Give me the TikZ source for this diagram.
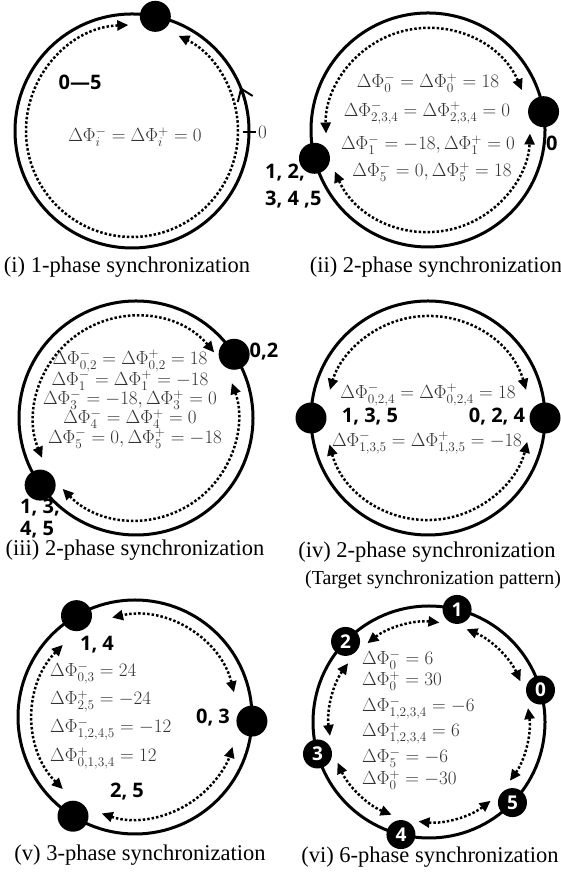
\RequirePackage{fix-cm}
\documentclass[tikz,border=0pt]{standalone}
\usepackage[no-math]{fontspec}
\newfontfamily\capfont{Liberation Serif}
\newfontfamily\lblfont{Open Sans}
\usetikzlibrary{arrows.meta}
\definecolor{eqgray}{RGB}{50,50,50}
\tikzset{
 ring/.style={line width=3pt},
 dotarc/.style={line width=2.5pt, dash pattern=on 2.5pt off 2pt, {Triangle[length=11pt,width=10pt]}-{Triangle[length=11pt,width=10pt]}},
 osc/.style={circle, fill=black, minimum size=31pt, inner sep=0pt},
 numosc/.style={circle, fill=black, minimum size=29pt, inner sep=0pt, text=white, font=\lblfont\bfseries\fontsize{19}{19}\selectfont},
 lbl/.style={font=\lblfont\bfseries\fontsize{20}{24}\selectfont, inner sep=0pt},
 eq/.style={text=eqgray, font=\fontsize{19}{19}\selectfont, inner sep=0pt},
 captxt/.style={font=\capfont\fontsize{22.5}{26}\selectfont, inner sep=0pt},
}
\begin{document}
\begin{tikzpicture}[x=1pt,y=1pt]
\fill[white] (0,0) rectangle (561,882);
\useasboundingbox (0,0) rectangle (561,882);

% ---------------- (i) ----------------
\coordinate (c1) at (132,751);
\draw[ring] (c1) circle[radius=117];
\node[osc] (d1) at ([shift={(78.5:117)}]c1) {};
\draw[dotarc] ([shift={(92:106)}]c1) arc[start angle=92,end angle=424,radius=106];
\draw[line width=2pt, -{Straight Barb[length=11pt,width=16pt,line width=2pt]}] ([shift={(10:117)}]c1) arc[start angle=10,end angle=22,radius=117];
\coordinate (t0) at (249,750);
\draw[line width=2pt] ([xshift=-6pt]t0) -- ([xshift=7pt]t0);
\node[eq, anchor=west] (t0lab) at ([xshift=9pt]t0) {$0$};
\node[lbl] (l1) at (80,800) {0—5};
\node[eq] (e1) at (135,745) {$\Delta\Phi_i^- = \Delta\Phi_i^+ = 0$};
\node[captxt] (cap1) at (127,615) {(i) 1-phase synchronization};

% ---------------- (ii) ----------------
\coordinate (c2) at (428,752);
\draw[ring] (c2) circle[radius=117];
\node[osc] (d2a) at ([shift={(9:117)}]c2) {};
\node[osc] (d2b) at ([shift={(194:117)}]c2) {};
\draw[dotarc] ([shift={(23:102)}]c2) arc[start angle=23,end angle=182,radius=102];
\draw[dotarc] ([shift={(204:102)}]c2) arc[start angle=204,end angle=358,radius=102];
\node[lbl, anchor=west] (l2a) at (546,739) {0};
\node[lbl, anchor=west] (l2b) at (265,709) {1, 2,};
\node[lbl, anchor=west] (l2c) at (265,682) {3, 4 ,5};
\node[eq] (e2a) at (428,799) {$\Delta\Phi_0^- = \Delta\Phi_0^+ = 18$};
\node[eq] (e2b) at (427,769) {$\Delta\Phi_{2,3,4}^- = \Delta\Phi_{2,3,4}^+ = 0$};
\node[eq] (e2c) at (428,737) {$\Delta\Phi_1^- = -18, \Delta\Phi_1^+ = 0$};
\node[eq] (e2d) at (432,710) {$\Delta\Phi_5^- = 0, \Delta\Phi_5^+ = 18$};
\node[captxt] (cap2) at (436,615) {(ii) 2-phase synchronization};

% ---------------- (iii) ----------------
\coordinate (c3) at (136,464);
\draw[ring] (c3) circle[radius=117];
\node[osc] (d3a) at ([shift={(33:117)}]c3) {};
\node[osc] (d3b) at ([shift={(215:117)}]c3) {};
\draw[dotarc] ([shift={(40:102)}]c3) arc[start angle=40,end angle=203,radius=102];
\draw[dotarc] ([shift={(224:102)}]c3) arc[start angle=224,end angle=380,radius=102];
\node[lbl] (l3a) at (264,530) {0,2};
\node[lbl, anchor=west] (l3b) at (20,374) {1, 3,};
\node[lbl, anchor=west] (l3c) at (20,352) {4, 5};
\node[eq] (e3a) at (130,521) {$\Delta\Phi_{0,2}^- = \Delta\Phi_{0,2}^+ = 18$};
\node[eq] (e3b) at (130,501.5) {$\Delta\Phi_1^- = \Delta\Phi_1^+ = -18$};
\node[eq] (e3c) at (130,482) {$\Delta\Phi_3^- = -18, \Delta\Phi_3^+ = 0$};
\node[eq] (e3d) at (130,463) {$\Delta\Phi_4^- = \Delta\Phi_4^+ = 0$};
\node[eq] (e3e) at (135,443.5) {$\Delta\Phi_5^- = 0, \Delta\Phi_5^+ = -18$};
\node[captxt] (cap3) at (135,332) {(iii) 2-phase synchronization};

% ---------------- (iv) ----------------
\coordinate (c4) at (428,464);
\draw[ring] (c4) circle[radius=117];
\node[osc] (d4a) at ([shift={(0:117)}]c4) {};
\node[osc] (d4b) at ([shift={(180:117)}]c4) {};
\draw[dotarc] ([shift={(16:102)}]c4) arc[start angle=16,end angle=164,radius=102];
\draw[dotarc] ([shift={(195:102)}]c4) arc[start angle=195,end angle=346.5,radius=102];
\node[lbl] (l4a) at (370,465) {1, 3, 5};
\node[lbl] (l4b) at (497,465) {0, 2, 4};
\node[eq] (e4a) at (428,487) {$\Delta\Phi_{0,2,4}^- = \Delta\Phi_{0,2,4}^+ = 18$};
\node[eq] (e4b) at (427,439) {$\Delta\Phi_{1,3,5}^- = \Delta\Phi_{1,3,5}^+ = -18$};
\node[captxt] (cap4) at (427,330) {(iv) 2-phase synchronization};
\node[captxt, font=\capfont\fontsize{19.9}{22}\selectfont] (cap4b) at (433,302) {(Target synchronization pattern)};

% ---------------- (v) ----------------
\coordinate (c5) at (135,165);
\draw[ring] (c5) circle[radius=117];
\node[osc] (d5a) at ([shift={(120:117)}]c5) {};
\node[osc] (d5b) at ([shift={(-2:117)}]c5) {};
\node[osc] (d5c) at ([shift={(238:117)}]c5) {};
\draw[dotarc] ([shift={(14:102)}]c5) arc[start angle=14,end angle=103,radius=102];
\draw[dotarc] ([shift={(135:102)}]c5) arc[start angle=135,end angle=225,radius=102];
\draw[dotarc] ([shift={(251:102)}]c5) arc[start angle=251,end angle=343,radius=102];
\node[lbl] (l5a) at (97,237) {1, 4};
\node[lbl] (l5b) at (213,164) {0, 3};
\node[lbl] (l5c) at (127,90) {2, 5};
\node[eq, anchor=base west] (e5a) at (50,205) {$\Delta\Phi_{0,3}^- = 24$};
\node[eq, anchor=base west] (e5b) at (50,177) {$\Delta\Phi_{2,5}^+ = -24$};
\node[eq, anchor=base west] (e5c) at (50,149) {$\Delta\Phi_{1,2,4,5}^- = -12$};
\node[eq, anchor=base west] (e5d) at (50,120) {$\Delta\Phi_{0,1,3,4}^+ = 12$};
\node[captxt] (cap5) at (140,27) {(v) 3-phase synchronization};

% ---------------- (vi) ----------------
\coordinate (c6) at (429,160);
\draw[ring] (c6) circle[radius=116];
\foreach \n/\a in {1/76,0/16,5/-44,4/-104,3/196,2/136}
  \node[numosc] (v\n) at ([shift={(\a:116)}]c6) {\n};
\foreach \s/\e in {84/128,24/68,-36/8,-96/-52,204/248,144/188}
  \draw[dotarc] ([shift={(\s:100)}]c6) arc[start angle=\s,end angle=\e,radius=100];
\node[eq, anchor=base west] (e6a) at (362,217) {$\Delta\Phi_0^- = 6$};
\node[eq, anchor=base west] (e6b) at (362,196) {$\Delta\Phi_0^+ = 30$};
\node[eq, anchor=base west] (e6c) at (362,170) {$\Delta\Phi_{1,2,3,4}^- = -6$};
\node[eq, anchor=base west] (e6d) at (362,145) {$\Delta\Phi_{1,2,3,4}^+ = 6$};
\node[eq, anchor=base west] (e6e) at (362,119) {$\Delta\Phi_5^- = -6$};
\node[eq, anchor=base west] (e6f) at (362,97) {$\Delta\Phi_0^+ = -30$};
\node[captxt] (cap6) at (430,25) {(vi) 6-phase synchronization};
\end{tikzpicture}
\end{document}
